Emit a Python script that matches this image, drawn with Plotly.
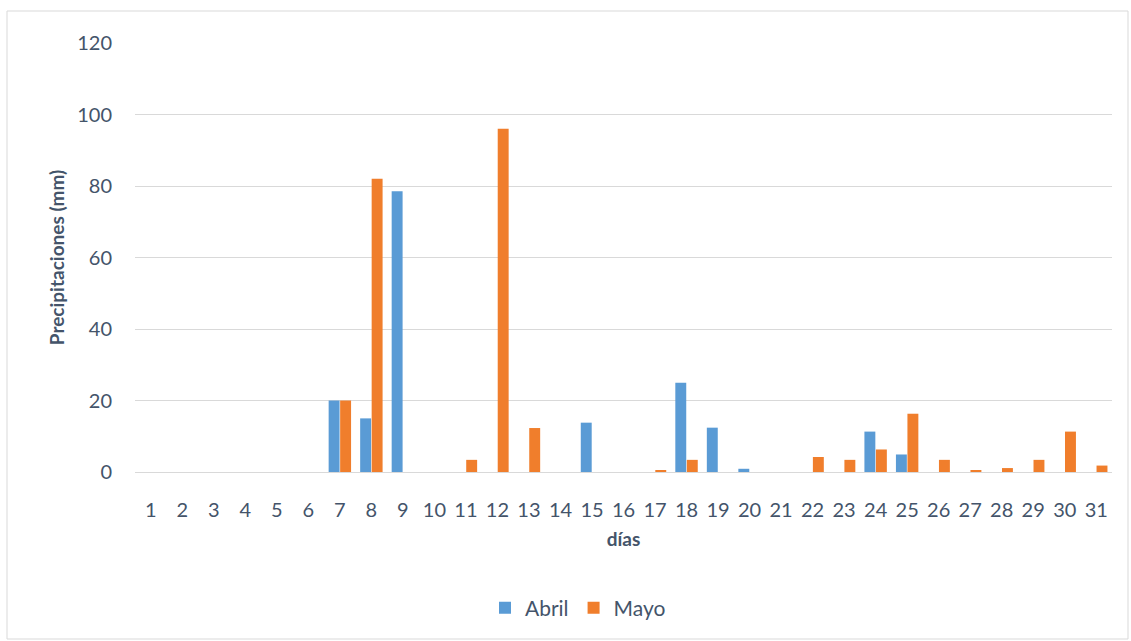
import plotly.graph_objects as go

dias = [str(d) for d in range(1, 32)]
abril = [0, 0, 0, 0, 0, 0, 20, 15, 78.5, 0, 0, 0, 0, 0, 13.8, 0, 0, 25, 12.4, 0.9,
         0, 0, 0, 11.3, 4.9, 0, 0, 0, 0, 0, None]
mayo = [0, 0, 0, 0, 0, 0, 20, 82, 0, 0, 3.4, 96, 12.3, 0, 0, 0, 0.5, 3.4, 0, 0,
        0, 4.2, 3.4, 6.3, 16.3, 3.4, 0.5, 1.1, 3.4, 11.3, 1.8]

txt = "#44546A"
fig = go.Figure()
fig.add_trace(go.Bar(x=dias, y=abril, name="Abril", marker=dict(color="#5A9BD5", line=dict(width=0))))
fig.add_trace(go.Bar(x=dias, y=mayo, name="Mayo", marker=dict(color="#F07E2C", line=dict(width=0))))

W, H = 1131, 641
l, r, t, b = 135, 19, 43, 169
pw, ph = W - l - r, H - t - b
def px(x): return (x - l) / pw
def py(y): return (H - b - y) / ph

fig.update_layout(
    width=W, height=H,
    margin=dict(l=l, r=r, t=t, b=b),
    paper_bgcolor="white", plot_bgcolor="white",
    font=dict(family="Lato, 'Open Sans', sans-serif", color=txt, size=20),
    barmode="group", bargap=0.27, bargroupgap=0.05,
    showlegend=True,
    legend=dict(orientation="h", x=px(578), xanchor="center", y=py(608), yanchor="middle",
                font=dict(size=21, color=txt), itemwidth=30),
    xaxis=dict(type="category", showgrid=False, showline=True, linecolor="#D9D9D9", linewidth=1,
               ticks="", ticklabelstandoff=20, tickfont=dict(size=20, color=txt),
               title=dict(text="<b>días</b>", font=dict(size=19, color=txt), standoff=12)),
    yaxis=dict(range=[0, 120], dtick=20, showgrid=True, gridcolor="#D9D9D9", gridwidth=1,
               zeroline=True, zerolinecolor="#D9D9D9", zerolinewidth=1,
               ticks="", ticklabelstandoff=22, tickfont=dict(size=20, color=txt),
               title=dict(text="<b>Precipitaciones (mm)</b>", font=dict(size=19, color=txt), standoff=7)),
    shapes=[dict(type="rect", xref="paper", yref="paper",
                 x0=px(7), x1=px(1128), y0=py(639), y1=py(11),
                 line=dict(color="#D9D9D9", width=1), layer="below")],
)
fig.write_html("out.html", config={"displayModeBar": False},
               post_script="document.body.style.margin='0';")
